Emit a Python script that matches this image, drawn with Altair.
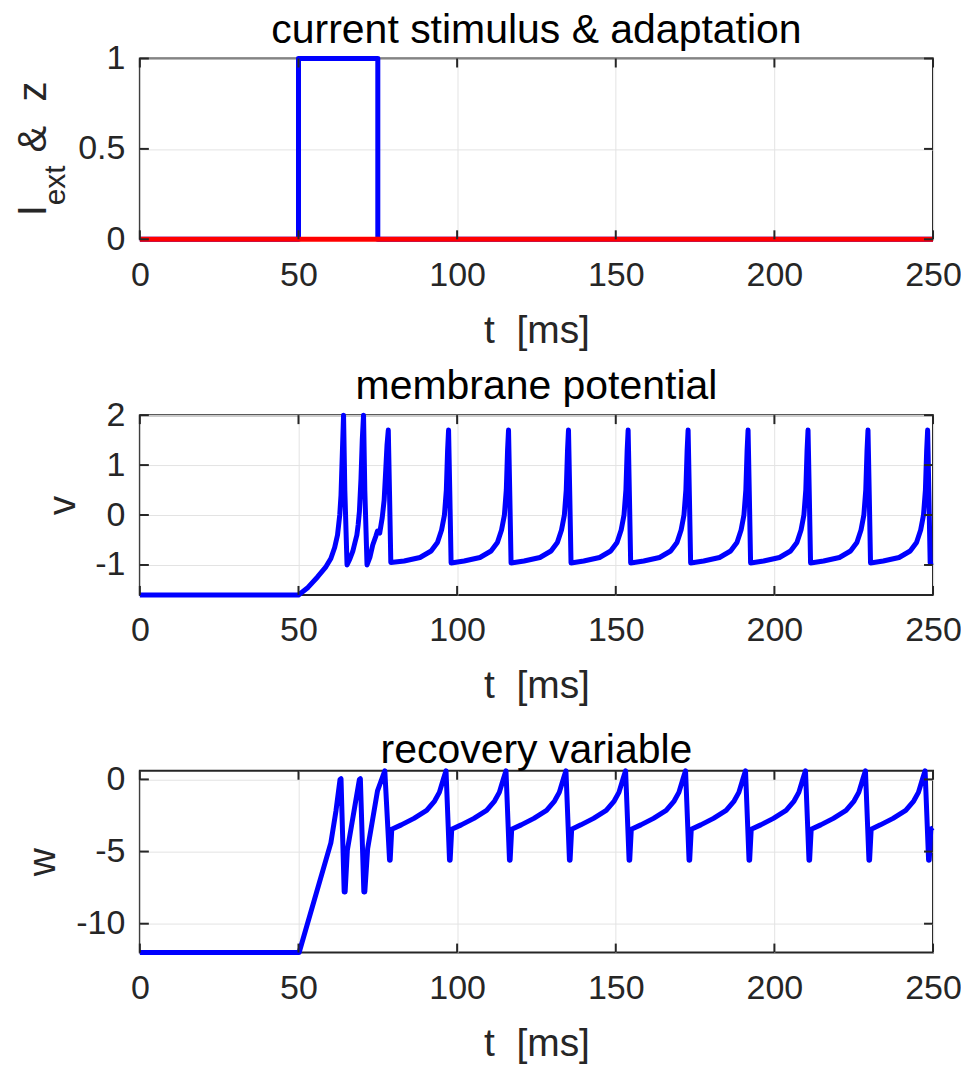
import altair as alt
import pandas as pd

# ---------------- data ----------------
t_stim = [0, 50, 50, 75, 75, 250]
i_ext = [0, 0, 1, 1, 0, 0]
t_adapt = [0, 250]
z_adapt = [0, 0]

t_v = [0, 50, 53, 56, 58.5, 60.2, 61.4, 62.3, 63.0, 63.4, 63.9, 64.2, 64.6, 65.3,
       66.2, 67.1, 67.8, 68.4, 68.8, 69.2, 69.7, 70.1, 70.5, 70.9, 71.6,
       72.5, 73.4, 74.4, 74.9, 75.6, 76.4, 77.0, 77.5, 77.9, 78.3, 78.7, 79.1,
       83.3, 88.3, 91.8, 93.8, 95.1, 96.0, 96.6, 97.0, 97.3, 97.7, 98.1,
       102.2, 107.2, 110.7, 112.7, 114.0, 114.9, 115.5, 115.9, 116.2, 116.6, 117.0,
       121.1, 126.1, 129.6, 131.6, 132.9, 133.8, 134.4, 134.8, 135.1, 135.5, 135.9,
       139.9, 144.9, 148.4, 150.4, 151.7, 152.6, 153.2, 153.6, 153.9, 154.3, 154.7,
       158.8, 163.8, 167.3, 169.3, 170.6, 171.5, 172.1, 172.5, 172.8, 173.2, 173.6,
       177.7, 182.7, 186.2, 188.2, 189.5, 190.4, 191.0, 191.4, 191.7, 192.1, 192.5,
       196.6, 201.6, 205.1, 207.1, 208.4, 209.3, 209.9, 210.3, 210.6, 211.0, 211.4,
       215.5, 220.5, 224.0, 226.0, 227.3, 228.2, 228.8, 229.2, 229.5, 229.9, 230.3,
       234.3, 239.3, 242.8, 244.8, 246.1, 247.0, 247.6, 248.0, 248.3, 248.7, 249.1,
       250]
v_vals = [-1.6, -1.6, -1.45, -1.24, -1.05, -0.87, -0.65, -0.4, 0.0, 0.4, 1.4, 2.0, 0.5, -1.0,
          -0.88, -0.73, -0.55, -0.4, -0.2, 0.07, 0.73, 1.5, 2.0, 0.5, -1.0,
          -0.85, -0.6, -0.42, -0.32, -0.36, -0.05, 0.3, 0.9, 1.4, 1.7, 0.4, -0.95,
          -0.92, -0.85, -0.72, -0.55, -0.3, 0.0, 0.5, 1.3, 1.7, 0.4, -0.96,
          -0.92, -0.85, -0.72, -0.55, -0.3, 0.0, 0.5, 1.3, 1.7, 0.4, -0.96,
          -0.92, -0.85, -0.72, -0.55, -0.3, 0.0, 0.5, 1.3, 1.7, 0.4, -0.96,
          -0.92, -0.85, -0.72, -0.55, -0.3, 0.0, 0.5, 1.3, 1.7, 0.4, -0.96,
          -0.92, -0.85, -0.72, -0.55, -0.3, 0.0, 0.5, 1.3, 1.7, 0.4, -0.96,
          -0.92, -0.85, -0.72, -0.55, -0.3, 0.0, 0.5, 1.3, 1.7, 0.4, -0.96,
          -0.92, -0.85, -0.72, -0.55, -0.3, 0.0, 0.5, 1.3, 1.7, 0.4, -0.96,
          -0.92, -0.85, -0.72, -0.55, -0.3, 0.0, 0.5, 1.3, 1.7, 0.4, -0.96,
          -0.92, -0.85, -0.72, -0.55, -0.3, 0.0, 0.5, 1.3, 1.7, 0.4, -0.96,
          -0.95]

t_w = [0, 50.2, 60.2, 61.8, 63.1, 63.4, 64.4, 64.7, 65.4, 69.2, 69.5, 70.6, 70.9, 71.8,
       74.9, 77.2, 78.7, 78.9, 79.4,
       82.4, 86.4, 90.4, 92.9, 94.4, 95.7, 96.5, 97.6, 97.8, 98.3,
       101.3, 105.3, 109.3, 111.8, 113.3, 114.6, 115.4, 116.5, 116.7, 117.2,
       120.2, 124.2, 128.2, 130.7, 132.2, 133.5, 134.3, 135.4, 135.6, 136.1,
       139.0, 143.0, 147.0, 149.5, 151.0, 152.3, 153.1, 154.2, 154.4, 154.9,
       157.9, 161.9, 165.9, 168.4, 169.9, 171.2, 172.0, 173.1, 173.3, 173.8,
       176.8, 180.8, 184.8, 187.3, 188.8, 190.1, 190.9, 192.0, 192.2, 192.7,
       195.7, 199.7, 203.7, 206.2, 207.7, 209.0, 209.8, 210.9, 211.1, 211.6,
       214.6, 218.6, 222.6, 225.1, 226.6, 227.9, 228.7, 229.8, 230.0, 230.5,
       233.4, 237.4, 241.4, 243.9, 245.4, 246.7, 247.5, 248.6, 248.8, 249.3,
       250]
w_vals = [-12, -12, -4.4, -2.2, 0.0, 0.05, -7.8, -7.8, -4.9, 0.0, 0.05, -7.8, -7.8, -4.8,
          -0.8, 0.6, -5.6, -5.6, -3.45,
          -3.15, -2.7, -2.15, -1.5, -0.9, 0.05, 0.6, -5.6, -5.6, -3.45,
          -3.15, -2.7, -2.15, -1.5, -0.9, 0.05, 0.6, -5.6, -5.6, -3.45,
          -3.15, -2.7, -2.15, -1.5, -0.9, 0.05, 0.6, -5.6, -5.6, -3.45,
          -3.15, -2.7, -2.15, -1.5, -0.9, 0.05, 0.6, -5.6, -5.6, -3.45,
          -3.15, -2.7, -2.15, -1.5, -0.9, 0.05, 0.6, -5.6, -5.6, -3.45,
          -3.15, -2.7, -2.15, -1.5, -0.9, 0.05, 0.6, -5.6, -5.6, -3.45,
          -3.15, -2.7, -2.15, -1.5, -0.9, 0.05, 0.6, -5.6, -5.6, -3.45,
          -3.15, -2.7, -2.15, -1.5, -0.9, 0.05, 0.6, -5.6, -5.6, -3.45,
          -3.15, -2.7, -2.15, -1.5, -0.9, 0.05, 0.6, -5.6, -5.6, -3.45,
          -3.35]

x_ticks = [0, 50, 100, 150, 200, 250]
y1_ticks = [0, 0.5, 1]
y2_ticks = [-1, 0, 1, 2]
y3_ticks = [-10, -5, 0]

titles = ["current stimulus & adaptation", "membrane potential", "recovery variable"]
x_label = "t\u00a0\u00a0[ms]"

# ---------------- styling ----------------
W = 794
FONT = "Liberation Sans"
AX = "#262626"
GRID = "#e3e3e3"
BLUE = "#0000ff"
RED = "#ff0000"
TICK_FS = 34
LABEL_FS = 39
TITLE_FS = 41
TICK_LEN = 9


def frame(t, y):
    return pd.DataFrame({"t": t, "y": y, "i": list(range(len(t)))})


def make_panel(lines, ydomain, yticks, height, title, ytitle=None, ytitle_x=-70, extra=()):
    xs = alt.Scale(domain=[0, 250], nice=False, zero=False)
    ys = alt.Scale(domain=ydomain, nice=False, zero=False)
    xaxis = alt.Axis(values=x_ticks, grid=True, gridColor=GRID, gridWidth=1,
                     domain=False, ticks=False, tickSize=0,
                     labelFont=FONT, labelFontSize=TICK_FS, labelColor=AX,
                     labelBaseline="alphabetic", labelPadding=46,
                     labelExpr="'' + datum.value", labelFlush=False,
                     title=x_label, titleFont=FONT, titleFontSize=LABEL_FS,
                     titleColor=AX, titleFontWeight="normal",
                     titleX=W / 2, titleY=103, titleAlign="center",
                     titleBaseline="alphabetic")
    yargs = dict(values=yticks, grid=True, gridColor=GRID, gridWidth=1,
                 domain=False, ticks=False, tickSize=0,
                 labelFont=FONT, labelFontSize=TICK_FS, labelColor=AX,
                 labelPadding=15, labelBaseline="middle", labelFlush=False,
                 labelExpr="'' + datum.value")
    if ytitle:
        yargs.update(title=ytitle, titleFont=FONT, titleFontSize=LABEL_FS,
                     titleColor=AX, titleFontWeight="normal", titleAngle=270,
                     titleX=ytitle_x, titleY=height / 2, titleAlign="center",
                     titleBaseline="alphabetic")
    else:
        yargs.update(title="")
    yaxis = alt.Axis(**yargs)

    X = lambda f: alt.X(f + ":Q", scale=xs, axis=xaxis)
    Y = lambda f: alt.Y(f + ":Q", scale=ys, axis=yaxis)

    layers = []
    for t, y, col in lines:
        layers.append(alt.Chart(frame(t, y)).mark_line(
            color=col, strokeWidth=5, strokeJoin="round", clip=False).encode(
            x=X("t"), y=Y("y"), order=alt.Order("i:Q")))

    # tick marks pointing inward (box style)
    xt = pd.DataFrame({"t": x_ticks})
    yt = pd.DataFrame({"y": yticks})
    for y0, y1 in [(height, height - TICK_LEN), (0, TICK_LEN)]:
        layers.append(alt.Chart(xt).mark_rule(color=AX, strokeWidth=2).encode(
            x=X("t"), y=alt.value(y0), y2=alt.value(y1)))
    for x0, x1 in [(0, TICK_LEN), (W - TICK_LEN, W)]:
        layers.append(alt.Chart(yt).mark_rule(color=AX, strokeWidth=2).encode(
            y=Y("y"), x=alt.value(x0), x2=alt.value(x1)))

    layers.extend(extra)
    return alt.layer(*layers).properties(
        width=W, height=height,
        title=alt.Title(title, font=FONT, fontSize=TITLE_FS, fontWeight="normal",
                        color="black", frame="group", anchor="middle",
                        baseline="alphabetic", offset=-26, dy=16))


one = pd.DataFrame({"a": [0]})


def label_text(txt, size, x, y):
    return alt.Chart(one).mark_text(text=txt, font=FONT, fontSize=size, color=AX,
                                    angle=270, align="left",
                                    baseline="alphabetic").encode(
        x=alt.value(x), y=alt.value(y))


ylabel1 = [label_text("I", LABEL_FS + 2, -94, 158),
           label_text("ext", 30, -75, 147),
           label_text("&", LABEL_FS + 1, -94, 94),
           label_text("z", LABEL_FS + 1, -94, 43)]

p1 = make_panel([(t_stim, i_ext, BLUE), (t_adapt, z_adapt, RED)],
                [0, 1], y1_ticks, 181, titles[0], extra=ylabel1)
p2 = make_panel([(t_v, v_vals, BLUE)], [-1.6, 2.0], y2_ticks, 180, titles[1],
                ytitle="v", ytitle_x=-65)
p3 = make_panel([(t_w, w_vals, BLUE)], [-12.0, 0.6], y3_ticks, 182, titles[2],
                ytitle="w", ytitle_x=-85)

chart = alt.vconcat(p1, p2, p3, spacing=176, bounds="flush").properties(
    padding={"left": 4, "top": 0, "right": -2, "bottom": 0}
).configure(background="white",
            view=alt.ViewConfig(stroke=AX, strokeWidth=2))

chart.save("out.html", embed_options={"renderer": "svg", "actions": False})
